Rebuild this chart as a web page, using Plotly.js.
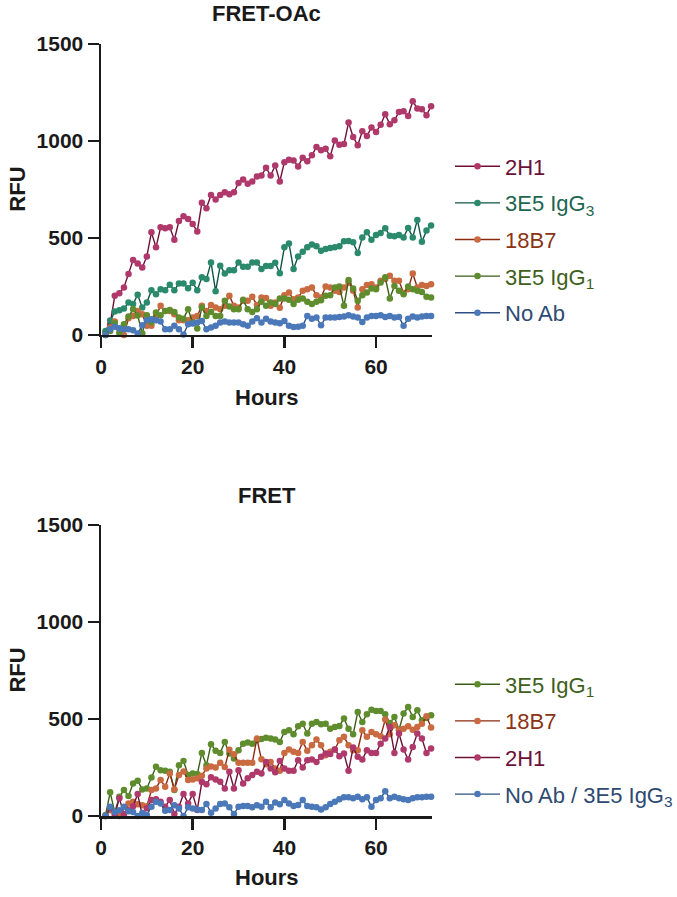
<!DOCTYPE html>
<html>
<head>
<meta charset="utf-8">
<script src="https://cdn.plot.ly/plotly-3.0.1.min.js"></script>
<style>html,body{margin:0;padding:0;background:#fff;}#chart{width:677px;height:897px;}</style>
</head>
<body>
<div id="chart"></div>
<script>
// Hours (x values)
const hours = [1,2,3,4,5,6,7,8,9,10,11,12,13,14,15,16,17,18,19,20,21,22,23,24,25,26,27,28,29,30,31,32,33,34,35,36,37,38,39,40,41,42,43,44,45,46,47,48,49,50,51,52,53,54,55,56,57,58,59,60,61,62,63,64,65,66,67,68,69,70,71,72];

// ---- FRET-OAc (top panel) ----
const oac_2H1 = [15,55,202,215,245,314,386,369,348,405,529,452,555,550,555,491,588,612,598,572,534,681,653,722,698,722,736,726,736,784,802,779,791,817,822,862,822,874,791,891,903,900,869,914,895,926,969,952,960,921,1003,981,984,1095,1021,978,1050,1026,1069,1046,1084,1138,1086,1107,1150,1153,1129,1205,1167,1164,1133,1179];
const oac_3E5IgG3 = [20,75,121,128,136,167,159,207,141,167,231,210,236,231,259,231,265,265,241,269,231,297,288,374,226,357,317,334,334,374,352,352,374,374,340,356,355,372,318,452,472,340,405,429,452,466,457,434,443,448,452,457,483,484,478,422,503,529,491,515,526,550,512,509,515,503,552,503,593,481,538,564];
const oac_18B7 = [0,38,69,29,0,86,98,124,107,47,47,98,150,124,124,107,76,76,76,90,98,150,124,155,141,133,150,202,150,141,176,176,197,155,193,190,150,167,140,205,219,184,193,228,236,245,205,193,250,245,228,222,245,271,228,141,236,257,262,245,279,288,305,279,279,216,236,317,245,257,253,262];
const oac_3E5IgG1 = [0,20,60,10,55,95,133,100,9,102,65,116,102,124,129,119,90,84,133,64,33,141,98,119,98,98,176,147,133,133,181,133,119,133,171,150,167,159,188,188,181,159,181,188,171,159,171,179,202,205,245,250,150,283,240,176,205,219,240,236,271,297,188,253,228,210,250,236,228,222,197,193];
const oac_NoAb = [0,30,43,34,29,29,24,7,50,76,81,76,69,29,29,47,29,3,55,59,64,72,29,38,47,64,69,64,64,64,55,47,69,86,64,84,69,64,60,72,47,41,43,47,98,84,90,50,90,90,90,93,95,102,95,90,67,90,98,98,102,93,98,90,93,47,84,95,90,95,98,98];

// ---- FRET (bottom panel) ----
const fret_3E5IgG1 = [5,122,20,99,134,103,168,182,137,142,199,254,236,233,228,134,262,284,211,219,216,325,262,370,336,325,382,322,296,339,373,379,373,391,397,403,399,394,382,433,442,421,463,475,425,476,485,473,476,450,459,464,502,450,421,536,485,524,548,541,541,524,480,510,445,528,562,510,545,493,505,520];
const fret_18B7 = [0,30,15,0,5,65,74,60,56,50,134,142,185,151,219,138,211,230,185,188,195,208,245,255,250,275,252,341,318,274,274,274,274,399,292,267,279,245,233,325,343,331,325,382,336,365,394,365,313,331,343,391,408,365,339,339,442,408,433,421,411,497,421,468,442,450,463,445,459,476,514,456];
const fret_2H1 = [0,40,5,91,10,30,50,113,5,40,82,86,74,48,82,10,48,113,65,113,31,175,164,200,188,176,142,228,142,236,168,194,211,228,219,279,245,226,284,245,233,233,288,250,288,291,279,305,322,319,343,308,322,233,353,305,291,339,325,325,373,399,459,325,425,343,291,356,425,399,325,348];
const fret_NoAb = [0,48,20,30,48,25,20,0,15,5,48,74,65,27,31,56,39,0,45,39,34,31,62,17,39,62,65,45,10,48,51,51,45,56,48,74,45,70,60,82,65,51,57,82,51,48,45,34,45,62,74,86,96,96,91,99,86,96,48,82,91,128,91,99,91,86,82,91,96,96,99,99];

// Series labels
const topNames = ['2H1', '3E5 IgG<sub>3</sub>', '18B7', '3E5 IgG<sub>1</sub>', 'No Ab'];
const botNames = ['3E5 IgG<sub>1</sub>', '18B7', '2H1', 'No Ab / 3E5 IgG<sub>3</sub>'];
const xTicks = [0, 20, 40, 60];
const yTicks = [0, 500, 1000, 1500];

const styles = {
  '2H1':  {marker: '#b0396b', line: '#6e1038', text: '#6b1038'},
  'IgG3': {marker: '#2b8a6c', line: '#0f5544', text: '#1f6650'},
  '18B7': {marker: '#c96a40', line: '#8a2a10', text: '#8b3315'},
  'IgG1': {marker: '#5f8d2e', line: '#3b5e16', text: '#3f5f1c'},
  'NoAb': {marker: '#4a78b8', line: '#2d4f85', text: '#2e4a72'}
};

function tr(y, name, st, xa, ya, leg, group) {
  return {
    x: hours, y: y, type: 'scatter', mode: 'lines+markers',
    name: '<span style="color:' + st.text + '">' + name + '</span>',
    xaxis: xa, yaxis: ya, legend: leg, legendgroup: group,
    line: {color: st.line, width: 1.4},
    marker: {color: st.marker, size: 6.5},
    cliponaxis: false
  };
}

const data = [
  tr(oac_2H1, topNames[0], styles['2H1'], 'x', 'y', 'legend', 'a1'),
  tr(oac_3E5IgG3, topNames[1], styles['IgG3'], 'x', 'y', 'legend', 'a2'),
  tr(oac_18B7, topNames[2], styles['18B7'], 'x', 'y', 'legend', 'a3'),
  tr(oac_3E5IgG1, topNames[3], styles['IgG1'], 'x', 'y', 'legend', 'a4'),
  tr(oac_NoAb, topNames[4], styles['NoAb'], 'x', 'y', 'legend', 'a5'),
  tr(fret_3E5IgG1, botNames[0], styles['IgG1'], 'x2', 'y2', 'legend2', 'b1'),
  tr(fret_18B7, botNames[1], styles['18B7'], 'x2', 'y2', 'legend2', 'b2'),
  tr(fret_2H1, botNames[2], styles['2H1'], 'x2', 'y2', 'legend2', 'b3'),
  tr(fret_NoAb, botNames[3], styles['NoAb'], 'x2', 'y2', 'legend2', 'b4')
];

const FONT = 'Liberation Sans, Arial, sans-serif';
const tickFont = {family: FONT, size: 21, weight: 'bold', color: '#1a1a1a'};

function xax(anchor) {
  return {
    anchor: anchor, domain: [0, 1], range: [0, 72.2],
    tickvals: xTicks, ticktext: xTicks.map(String),
    showline: true, linecolor: '#1a1a1a', linewidth: 2.5,
    ticks: 'outside', ticklen: 11, tickwidth: 2.5, tickcolor: '#1a1a1a',
    showgrid: false, zeroline: false, tickfont: tickFont
  };
}
function yax(anchor, dom) {
  return {
    anchor: anchor, domain: dom, range: [0, 1500],
    tickvals: yTicks, ticktext: yTicks.map(String),
    showline: true, linecolor: '#1a1a1a', linewidth: 2.5,
    ticks: 'outside', ticklen: 11, tickwidth: 2.5, tickcolor: '#1a1a1a',
    showgrid: false, zeroline: false, tickfont: tickFont
  };
}

const legendBase = {
  font: {family: FONT, size: 22, color: '#333'},
  bgcolor: 'rgba(0,0,0,0)', borderwidth: 0,
  xref: 'container', yref: 'container',
  xanchor: 'left', yanchor: 'middle',
  traceorder: 'grouped', tracegroupgap: 5, itemwidth: 45
};

const titleFont = {family: FONT, size: 22, weight: 'bold', color: '#1a1a1a'};

const layout = {
  width: 677, height: 897,
  margin: {l: 101, r: 244.5, t: 44, b: 81},
  paper_bgcolor: '#fff', plot_bgcolor: '#fff',
  showlegend: true,
  xaxis: xax('y'),
  yaxis: yax('x', [0.6231, 1]),
  xaxis2: xax('y2'),
  yaxis2: yax('x2', [0, 0.3769]),
  legend: Object.assign({}, legendBase, {x: 0.6647, y: 0.733}),
  legend2: Object.assign({}, legendBase, {x: 0.6647, y: 0.1756}),
  annotations: [
    {text: 'FRET-OAc', xref: 'paper', yref: 'paper', x: 0.5, y: 1.0389, xanchor: 'center', yanchor: 'middle', showarrow: false, font: titleFont},
    {text: 'FRET', xref: 'paper', yref: 'paper', x: 0.5, y: 0.4158, xanchor: 'center', yanchor: 'middle', showarrow: false, font: titleFont},
    {text: 'RFU', xref: 'paper', yref: 'paper', x: -0.2534, y: 0.8115, xanchor: 'center', yanchor: 'middle', textangle: -90, showarrow: false, font: titleFont},
    {text: 'RFU', xref: 'paper', yref: 'paper', x: -0.2534, y: 0.1885, xanchor: 'center', yanchor: 'middle', textangle: -90, showarrow: false, font: titleFont},
    {text: 'Hours', xref: 'paper', yref: 'paper', x: 0.5, y: 0.5427, xanchor: 'center', yanchor: 'middle', showarrow: false, font: titleFont},
    {text: 'Hours', xref: 'paper', yref: 'paper', x: 0.5, y: -0.0803, xanchor: 'center', yanchor: 'middle', showarrow: false, font: titleFont}
  ]
};

Plotly.newPlot('chart', data, layout, {staticPlot: true, displayModeBar: false});
</script>
</body>
</html>
